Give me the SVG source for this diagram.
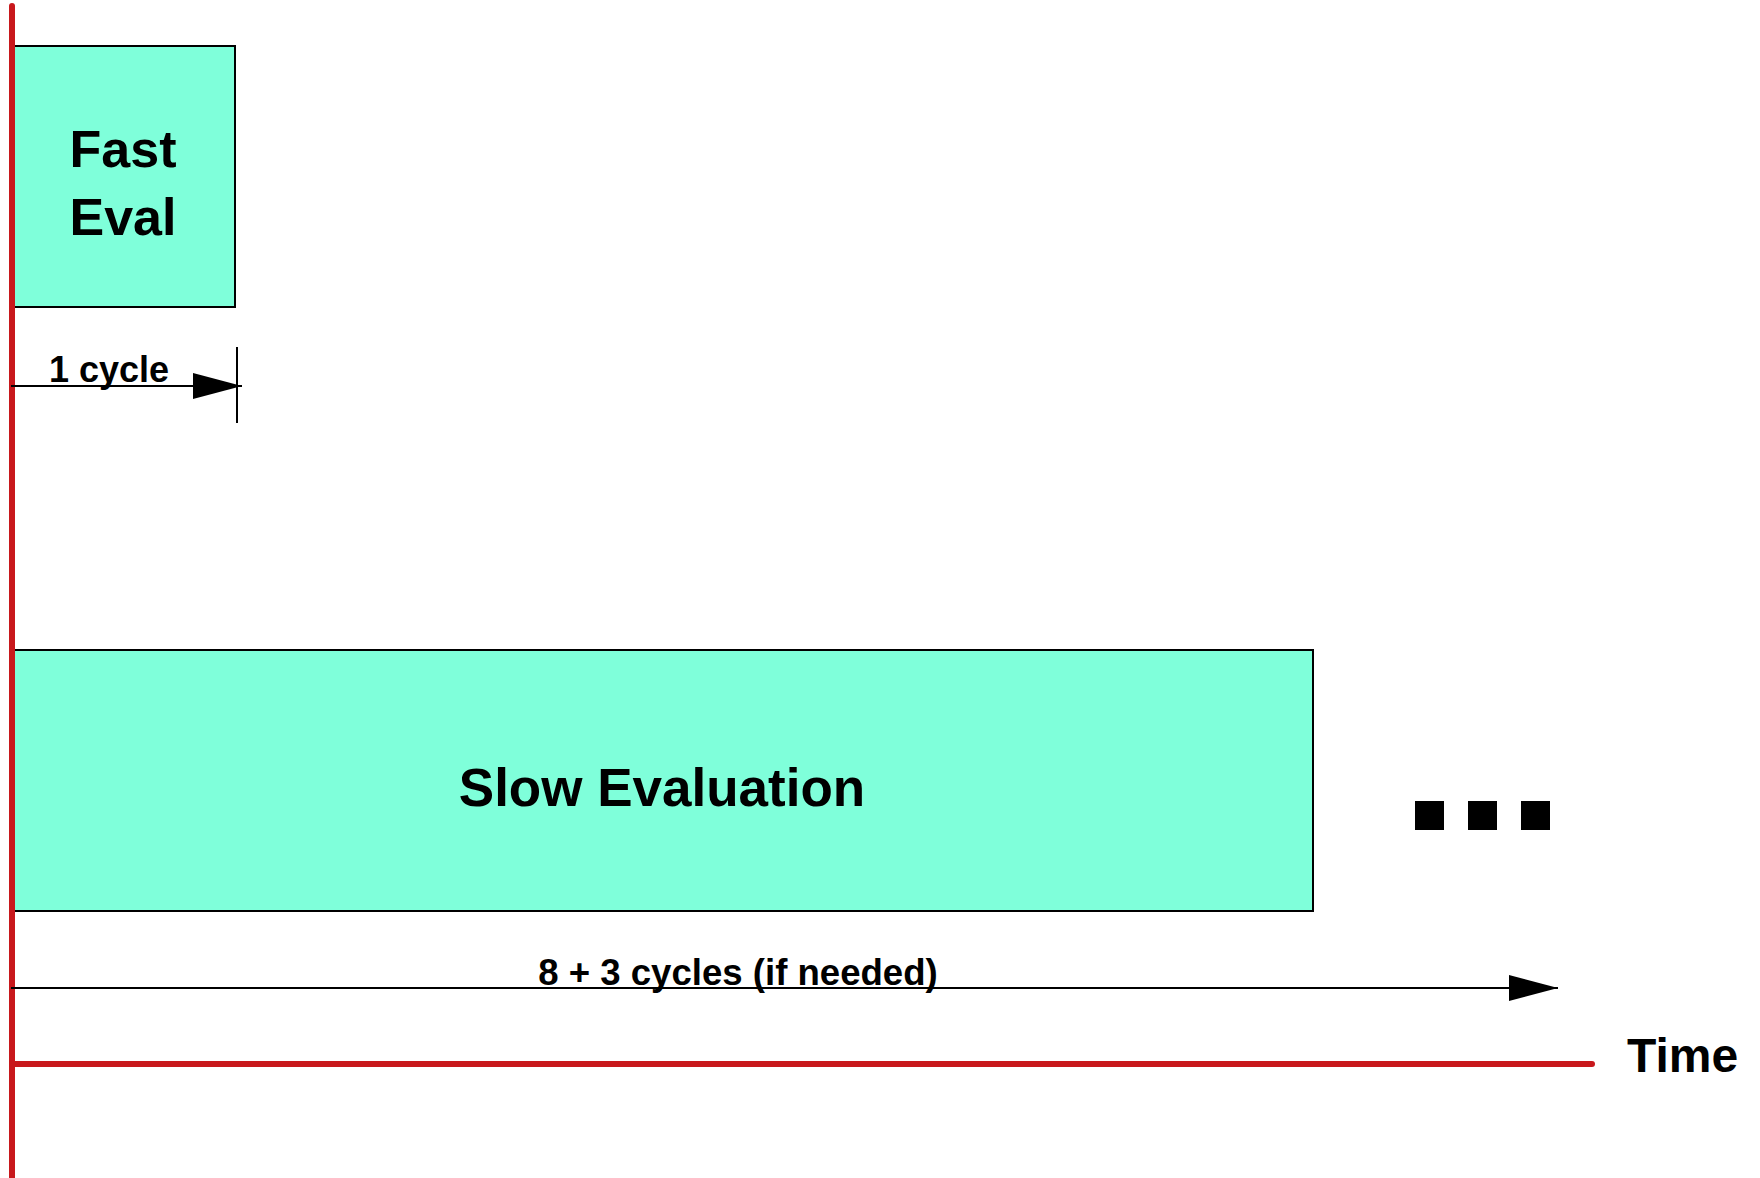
<svg xmlns="http://www.w3.org/2000/svg" width="1760" height="1178" viewBox="0 0 1760 1178">
  <style>
    .box { fill: #7fffda; stroke: #000; stroke-width: 2; }
    .lbl { font-family: "Liberation Sans", Arial, sans-serif; font-weight: bold; fill: #000; }
    .axis { stroke: #c8181c; stroke-width: 6; stroke-linecap: round; fill: none; }
    .dim { stroke: #000; stroke-width: 2; fill: none; }
  </style>
  <defs>
    <marker id="arrow" markerUnits="userSpaceOnUse" markerWidth="50" markerHeight="28" refX="49" refY="13" orient="auto">
      <path d="M0,0 L49,13 L0,26 Z" fill="#000"/>
    </marker>
  </defs>
  <rect width="1760" height="1178" fill="#fff"/>

  <g id="fast-eval">
    <rect class="box" x="12" y="46" width="223" height="261"/>
    <text class="lbl" x="123" y="167" font-size="52" text-anchor="middle">Fast</text>
    <text class="lbl" x="123" y="235" font-size="52" text-anchor="middle">Eval</text>
  </g>

  <g id="slow-eval">
    <rect class="box" x="12" y="650" width="1301" height="261"/>
    <text class="lbl" x="662" y="806" font-size="53" text-anchor="middle">Slow Evaluation</text>
  </g>

  <g id="ellipsis">
    <rect x="1415" y="801" width="29" height="29" fill="#000"/>
    <rect x="1468" y="801" width="29" height="29" fill="#000"/>
    <rect x="1521" y="801" width="29" height="29" fill="#000"/>
  </g>

  <g id="axes">
    <line class="axis" x1="12" y1="6" x2="12" y2="1182"/>
    <line class="axis" x1="12" y1="1064" x2="1592" y2="1064"/>
    <text class="lbl" x="1627" y="1072" font-size="48">Time</text>
  </g>

  <g id="connectors">
    <line class="dim" x1="11" y1="386" x2="242" y2="386" marker-end="url(#arrow)"/>
    <line class="dim" x1="237" y1="347" x2="237" y2="423"/>
    <line class="dim" x1="11" y1="988" x2="1558" y2="988" marker-end="url(#arrow)"/>
  </g>

  <g id="labels">
    <text class="lbl" x="109" y="382" font-size="36" text-anchor="middle">1 cycle</text>
    <text class="lbl" x="738" y="985" font-size="36.6" text-anchor="middle">8 + 3 cycles (if needed)</text>
  </g>
</svg>
